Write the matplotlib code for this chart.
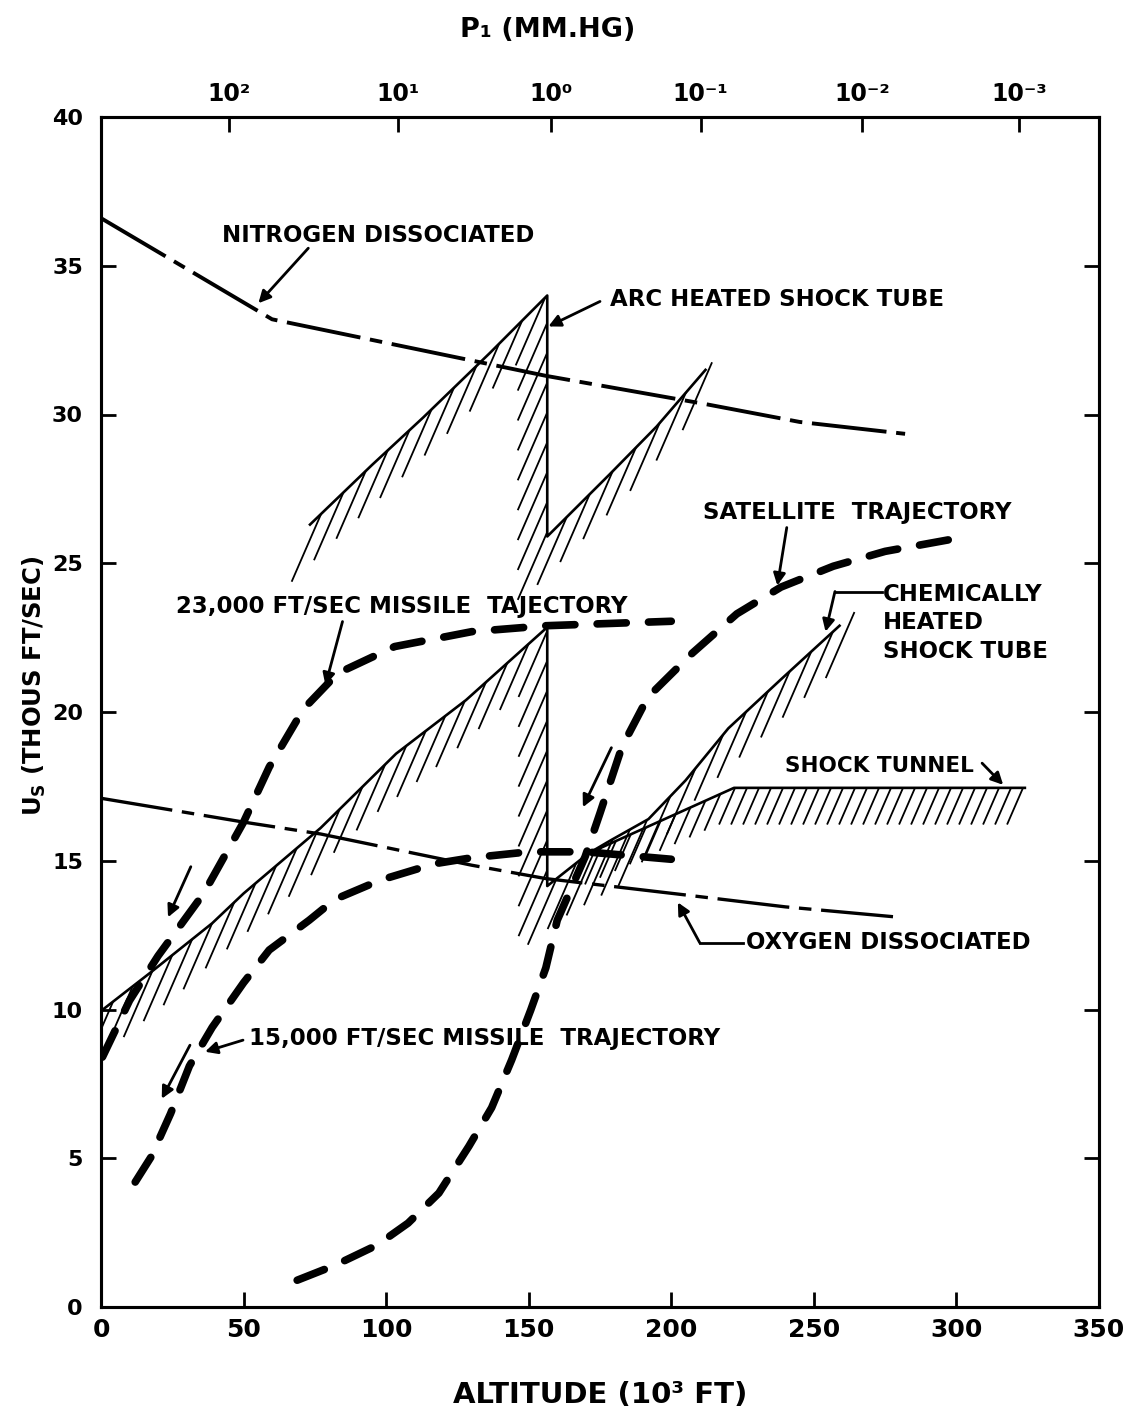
import numpy as np
import matplotlib
matplotlib.use("Agg")
import matplotlib.pyplot as plt
from matplotlib.collections import LineCollection

plt.rcParams["font.family"] = ["DejaVu Sans"]
plt.rcParams["font.weight"] = "bold"
plt.rcParams["lines.scale_dashes"] = False

# ---------------- data (altitude in 10^3 ft, Us in thousand ft/s) ----------------
nitrogen_alt = [0, 60, 156, 212, 245, 282]
nitrogen_us = [36.6, 33.2, 31.3, 30.35, 29.75, 29.35]

oxygen_alt = [0, 50, 77, 130, 156, 205, 240, 280]
oxygen_us = [17.1, 16.3, 15.9, 14.85, 14.4, 13.85, 13.45, 13.1]

traj23_alt = [0.5, 10, 20, 36, 50, 59, 71, 83, 103, 130, 156, 200]
traj23_us = [8.4, 10.3, 11.8, 13.9, 16.3, 18.15, 20.1, 21.3, 22.2, 22.7, 22.9, 23.05]

traj15_alt = [12, 17.6, 24.4, 31, 39, 50, 59, 73, 82, 98, 117, 130, 150, 170, 200]
traj15_us = [4.2, 5.05, 6.5, 8.1, 9.4, 10.9, 12.0, 13.0, 13.7, 14.35, 14.9, 15.1, 15.3, 15.3, 15.05]

sat_alt = [68.8, 82, 96.8, 107.7, 118.5, 129, 137, 144, 150.7, 156, 160, 169.8, 175,
           182.7, 191.8, 207.4, 223, 238.5, 256.8, 275, 298]
sat_us = [0.9, 1.4, 2.08, 2.82, 3.83, 5.4, 6.7, 8.3, 9.98, 11.4, 13.0, 15.14, 16.6,
          18.83, 20.5, 21.98, 23.3, 24.2, 24.9, 25.4, 25.8]

# arc heated shock tube, upper envelope (rising, drop, rising)
arc_up_alt = [73.3, 95, 113, 136.4, 156.5, 156.5, 178.5, 194.9, 212]
arc_up_us = [26.3, 28.3, 29.9, 32.07, 34.0, 25.9, 28.0, 29.6, 31.5]

# arc heated shock tube, lower envelope continuing into chemically heated shock tube
arc_lo_alt = [0, 17.6, 39, 50, 77, 103.5, 128, 156.5, 156.5, 171, 179, 192, 205, 220, 238.5, 259]
arc_lo_us = [9.95, 11.26, 12.9, 13.9, 16.1, 18.6, 20.4, 22.85, 14.15, 15.25, 15.7, 16.4,
             17.7, 19.45, 21.1, 22.9]

tunnel_alt = [171, 222, 324]
tunnel_us = [15.25, 17.45, 17.45]

x_ticks = [0, 50, 100, 150, 200, 250, 300, 350]
y_ticks = [0, 5, 10, 15, 20, 25, 30, 35, 40]
p1_alt = [44.9, 104.2, 157.8, 210.3, 267, 322]
p1_labels = ["10²", "10¹", "10⁰", "10⁻¹", "10⁻²", "10⁻³"]

# ---------------- figure ----------------
fig = plt.figure(figsize=(11.29, 14.25), dpi=100)
ax = fig.add_axes([101 / 1129, 1 - 1307 / 1425, 998 / 1129, 1190 / 1425])
ax.set_xlim(0, 350)
ax.set_ylim(0, 40)

for s in ax.spines.values():
    s.set_linewidth(2.2)

ax.set_xticks(x_ticks)
ax.set_yticks(y_ticks)
ax.yaxis.set_ticks_position("both")
ax.tick_params(axis="both", direction="in", length=11, width=2, top=False)
ax.tick_params(axis="x", pad=8, labelsize=18)
ax.tick_params(axis="y", pad=13, labelsize=16)

ax2 = ax.twiny()
ax2.set_xlim(ax.get_xlim())
ax2.set_xticks(p1_alt)
ax2.set_xticklabels(p1_labels)
ax2.tick_params(axis="x", direction="in", length=11, width=2, labelsize=17, pad=8)
for s in ax2.spines.values():
    s.set_linewidth(2.2)

ax.text(0.448, 1.073, "P₁ (MM.HG)", transform=ax.transAxes, ha="center", va="center",
        fontsize=19.5)
ax.text(0.5, -0.074, "ALTITUDE (10³ FT)", transform=ax.transAxes, ha="center", va="center",
        fontsize=21)
ax.text(-0.067, 0.522, r"U$_\mathbf{S}$ (THOUS FT/SEC)", transform=ax.transAxes,
        ha="center", va="center", rotation=90, fontsize=17.5)

fig.canvas.draw()


def hatch(xs, ys, spacing_px, length_px, slope=2.3, offset=0.0, lw=1.3, tail_px=0.0):
    T = ax.transData
    pts = T.transform(np.column_stack([xs, ys]))
    if tail_px > 0:
        v = pts[-1] - pts[-2]
        pts = np.vstack([pts, pts[-1] + tail_px * v / np.hypot(*v)])
    dense = [np.linspace(pts[i], pts[i + 1], 300, endpoint=False) for i in range(len(pts) - 1)]
    dense.append(pts[-1:])
    dense = np.vstack(dense)
    c = dense[:, 0] - dense[:, 1] / slope
    theta = np.arctan(slope)
    d = np.array([np.cos(theta), np.sin(theta)])
    k0 = int(np.ceil((c[0] - offset) / spacing_px))
    k1 = int(np.floor((c[-1] - offset) / spacing_px))
    segs = []
    for k in range(k0, k1 + 1):
        cv = k * spacing_px + offset
        px = np.interp(cv, c, dense[:, 0])
        py = np.interp(cv, c, dense[:, 1])
        p = np.array([px, py])
        q = p - length_px * d
        segs.append(T.inverted().transform(np.vstack([p, q])))
    ax.add_collection(LineCollection(segs, colors="black", linewidths=lw, zorder=2))


# hatched envelopes
hatch(arc_up_alt, arc_up_us, 13, 74, offset=3, tail_px=22)
hatch(arc_lo_alt, arc_lo_us, 13, 72, offset=7, tail_px=26)
hatch(tunnel_alt, tunnel_us, 12, 40, offset=2)

ax.plot(arc_up_alt, arc_up_us, color="black", lw=1.9, zorder=3)
ax.plot(arc_lo_alt, arc_lo_us, color="black", lw=1.9, zorder=3)
ax.plot(tunnel_alt, tunnel_us, color="black", lw=1.9, zorder=3)

# dissociation lines
ln, = ax.plot(nitrogen_alt, nitrogen_us, color="black", lw=2.8, zorder=4)
ln.set_dashes([54, 7, 9, 7])
lo, = ax.plot(oxygen_alt, oxygen_us, color="black", lw=2.4, zorder=4)
lo.set_dashes([52, 7, 9, 7])

# trajectories
for xs, ys in [(traj23_alt, traj23_us), (traj15_alt, traj15_us), (sat_alt, sat_us)]:
    l, = ax.plot(xs, ys, color="black", lw=5.5, zorder=5, solid_capstyle="round",
                 dash_capstyle="round")
    l.set_dashes([21, 16])

arrow = dict(arrowstyle="-|>", color="black", lw=2.0, mutation_scale=18,
             shrinkA=0, shrinkB=0)

# direction-of-flight arrows
for (x0, y0), (x1, y1) in [((31.5, 14.8), (23.5, 13.1)),
                           ((31.2, 8.8), (21.3, 7.0)),
                           ((179, 18.8), (169, 16.8))]:
    ax.annotate("", xy=(x1, y1), xytext=(x0, y0), arrowprops=arrow, zorder=6)

fs = 16.5
# labels
ax.text(42.4, 36.0, "NITROGEN DISSOCIATED", fontsize=fs, va="center", ha="left")
ax.annotate("", xy=(55.2, 33.74), xytext=(72.7, 35.59), arrowprops=arrow)

ax.text(178.5, 33.85, "ARC HEATED SHOCK TUBE", fontsize=fs, va="center", ha="left")
ax.annotate("", xy=(156.9, 32.96), xytext=(175, 33.8), arrowprops=arrow)

ax.text(211.2, 26.7, "SATELLITE  TRAJECTORY", fontsize=fs, va="center", ha="left")
ax.annotate("", xy=(237.2, 24.25), xytext=(240.5, 26.2), arrowprops=arrow)

ax.text(274.3, 23.0, "CHEMICALLY\nHEATED\nSHOCK TUBE", fontsize=fs, va="center", ha="left",
        linespacing=1.3)
ax.plot([274.0, 257.4], [24.05, 24.05], color="black", lw=2.0)
ax.annotate("", xy=(254.1, 22.7), xytext=(257.4, 24.05), arrowprops=arrow)

ax.text(239.9, 18.17, "SHOCK TUNNEL", fontsize=15.5, va="center", ha="left")
ax.annotate("", xy=(316.4, 17.55), xytext=(309, 18.28), arrowprops=arrow)

ax.text(226.2, 12.24, "OXYGEN DISSOCIATED", fontsize=fs, va="center", ha="left")
ax.plot([225.0, 210.0], [12.24, 12.24], color="black", lw=2.0)
ax.annotate("", xy=(202.3, 13.6), xytext=(210.0, 12.24), arrowprops=arrow)

ax.text(26.3, 23.53, "23,000 FT/SEC MISSILE  TAJECTORY", fontsize=fs, va="center", ha="left")
ax.annotate("", xy=(78.7, 20.9), xytext=(84.7, 23.04), arrowprops=arrow)

ax.text(51.9, 9.04, "15,000 FT/SEC MISSILE  TRAJECTORY", fontsize=fs, va="center", ha="left")
ax.annotate("", xy=(36.5, 8.58), xytext=(49.8, 8.97), arrowprops=arrow)

fig.savefig("out.png", dpi=100)
